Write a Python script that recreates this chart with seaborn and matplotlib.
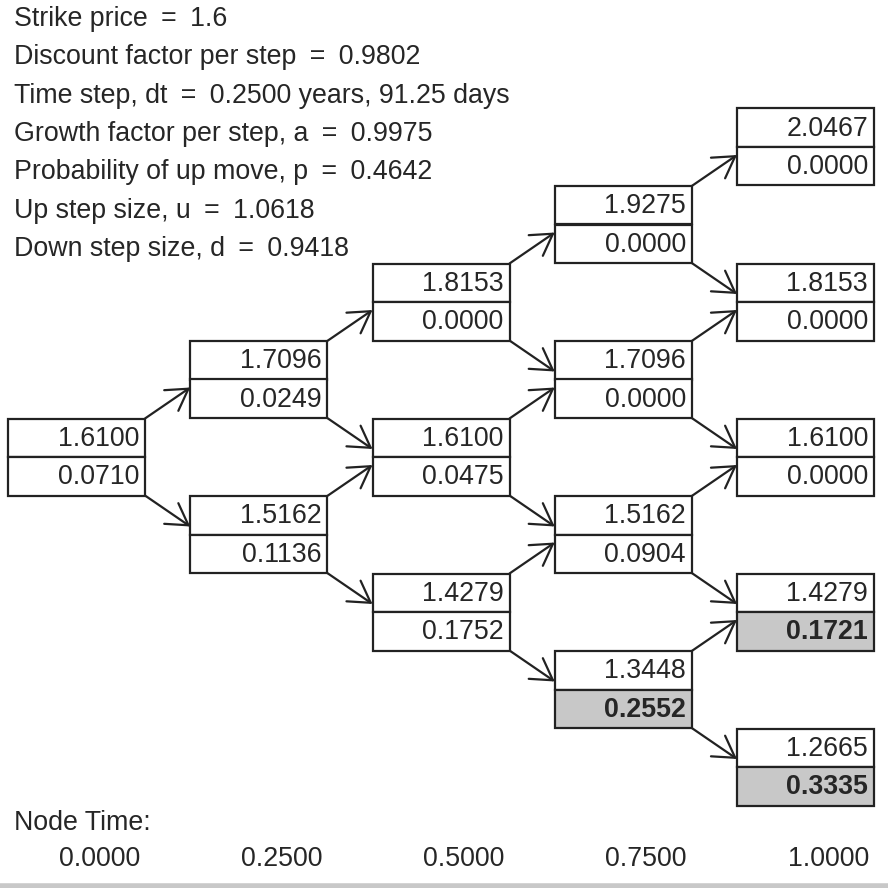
import matplotlib
matplotlib.use("Agg")
import matplotlib.pyplot as plt
from matplotlib.patches import Rectangle, FancyArrowPatch
import seaborn as sns

sns.set_style("white")
plt.rcParams["font.family"] = ["Liberation Sans", "DejaVu Sans"]

# ── Data ──────────────────────────────────────────────────────────────────────
EQ = "\u2002=\u2002"
header_lines = [
    f"Strike price{EQ}1.6",
    f"Discount factor per step{EQ}0.9802",
    f"Time step, dt{EQ}0.2500 years, 91.25 days",
    f"Growth factor per step, a{EQ}0.9975",
    f"Probability of up move, p{EQ}0.4642",
    f"Up step size, u{EQ}1.0618",
    f"Down step size, d{EQ}0.9418",
]

node_times = ["0.0000", "0.2500", "0.5000", "0.7500", "1.0000"]

# per step, listed from lowest node (all down moves) to highest
stock_prices = [
    ["1.6100"],
    ["1.5162", "1.7096"],
    ["1.4279", "1.6100", "1.8153"],
    ["1.3448", "1.5162", "1.7096", "1.9275"],
    ["1.2665", "1.4279", "1.6100", "1.8153", "2.0467"],
]
option_values = [
    ["0.0710"],
    ["0.1136", "0.0249"],
    ["0.1752", "0.0475", "0.0000"],
    ["0.2552", "0.0904", "0.0000", "0.0000"],
    ["0.3335", "0.1721", "0.0000", "0.0000", "0.0000"],
]
# nodes where the put is exercised (shaded, bold)
exercised = [
    [False],
    [False, False],
    [False, False, False],
    [True, False, False, False],
    [True, True, False, False, False],
]

# ── Layout (pixel space) ──────────────────────────────────────────────────────
W = 888
COL_X0, COL_DX = 8, 182.25
BOX_W, CELL_H = 137, 38.5
ROOT_Y, HALF_STEP = 457, 77.5
FS = 19.3
LW = 1.6
INK = "#222222"
SHADE = "#c8c8c8"


def node_pos(i, j):
    left = COL_X0 + i * COL_DX
    mid = ROOT_Y - (2 * j - i) * HALF_STEP
    return left, mid


fig = plt.figure(figsize=(8.88, 8.88), dpi=100)
ax = fig.add_axes([0, 0, 1, 1])
ax.set_xlim(0, W)
ax.set_ylim(W, 0)
ax.axis("off")

for k, line in enumerate(header_lines):
    ax.text(14, 19 + k * 38.3, line, fontsize=FS, ha="left", va="center")

for i, col in enumerate(stock_prices):
    for j, price in enumerate(col):
        left, mid = node_pos(i, j)
        top, bot = mid - CELL_H, mid + CELL_H
        ax.add_patch(Rectangle((left, top), BOX_W, CELL_H, facecolor="white",
                               edgecolor=INK, lw=LW, zorder=2))
        ex = exercised[i][j]
        ax.add_patch(Rectangle((left, mid), BOX_W, CELL_H,
                               facecolor=SHADE if ex else "white",
                               edgecolor=INK, lw=LW, zorder=2))
        ax.text(left + BOX_W - 6, mid - CELL_H / 2 + 1, price, fontsize=FS,
                ha="right", va="center", zorder=3)
        ax.text(left + BOX_W - 6, mid + CELL_H / 2 + 1, option_values[i][j],
                fontsize=FS, ha="right", va="center", zorder=3,
                fontweight="bold" if ex else "normal")

        # arrows to the next step: up move from top corner, down from bottom
        if i + 1 < len(stock_prices):
            for dj, corner, off in ((1, top, 8), (0, bot, -8)):
                nl, nm = node_pos(i + 1, j + dj)
                arr = FancyArrowPatch((left + BOX_W, corner), (nl, nm + off),
                                      arrowstyle="->,head_length=1.0,head_width=0.6",
                                      mutation_scale=15, lw=LW, color=INK,
                                      shrinkA=0, shrinkB=0, zorder=1)
                ax.add_patch(arr)

ax.text(14, 823, "Node Time:", fontsize=FS, ha="left", va="center")
for i, t in enumerate(node_times):
    left, _ = node_pos(i, 0)
    ax.text(left + BOX_W - 5, 859, t, fontsize=FS, ha="right", va="center")

ax.axhline(886, color=SHADE, lw=4)

fig.savefig("out.png", dpi=100)
